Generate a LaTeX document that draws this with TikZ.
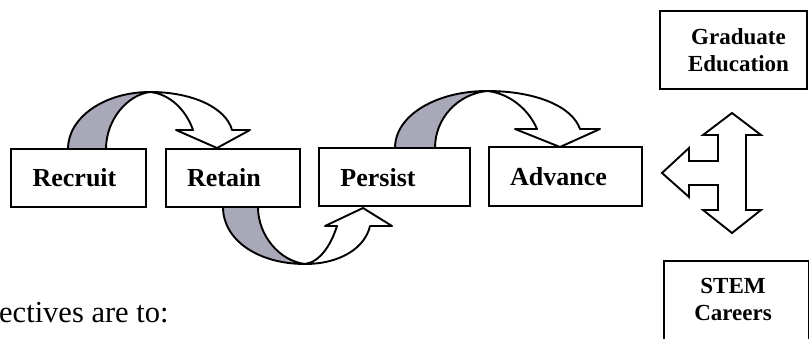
\documentclass[tikz,border=0pt]{standalone}
\usepackage{fontspec}
\setmainfont{Liberation Serif}
\definecolor{ribbongrey}{RGB}{168,168,184}
\begin{document}
\begin{tikzpicture}[x=1pt,y=-1pt,
  box/.style={draw=black, line width=1.9pt, fill=white, rectangle, inner sep=0pt},
  stagetext/.style={anchor=base, inner sep=0pt, font=\fontsize{26}{30}\selectfont\bfseries},
  endtext/.style={align=center, inner sep=0pt, font=\fontsize{23}{27}\selectfont\bfseries},
  ribbon/.style={draw=black, line width=1.9pt, line join=round},
  back/.style={ribbon, fill=ribbongrey},
  front/.style={ribbon, fill=white},
  bigarrow/.style={draw=black, line width=1.9pt, fill=white, line join=miter},
]
\useasboundingbox (0,0) rectangle (809,339);
\clip (0,0) rectangle (809,339);

% stage boxes and their labels
\node[box, minimum width=135pt, minimum height=58pt] (recruit) at (78.5,178) {};
\node[box, minimum width=134pt, minimum height=58pt] (retain)  at (233,178)  {};
\node[box, minimum width=151pt, minimum height=58pt] (persist) at (394.5,177) {};
\node[box, minimum width=153pt, minimum height=59pt] (advance) at (565.5,176.5) {};
\node[stagetext] (recruitlabel) at (74.5,187)  {Recruit};
\node[stagetext] (retainlabel)  at (224,187)   {Retain};
\node[stagetext] (persistlabel) at (378,187)   {Persist};
\node[stagetext] (advancelabel) at (558.5,186) {Advance};

% outcome boxes and their labels
\node[box, minimum width=147pt, minimum height=78pt] (grad) at (733.5,50) {};
\node[endtext] (gradlabel) at (738.5,50) {Graduate\\Education};
\node[box, minimum width=145pt, minimum height=90pt, anchor=north west] (stem) at (663,260) {};
\node[endtext] (stemlabel) at (733,299) {STEM\\Careers};

% Recruit -> Retain (over the top)
\draw[back] (68,149) .. controls (68,117) and (105,92) .. (150,92)
  .. controls (127,95) and (106,120) .. (106,149) -- cycle;
\draw[front] (150,92) .. controls (193,92) and (226,108) .. (232,130)
  -- (250,130) -- (217,148) -- (176,130) -- (193,130)
  .. controls (186,110) and (170,94) .. (150,92) -- cycle;

% Retain -> Persist (underneath)
\draw[back] (223,207) .. controls (223,240) and (258,264) .. (305,264)
  .. controls (280,261) and (258,236) .. (258,207) -- cycle;
\draw[front] (305,264) .. controls (340,264) and (365,248) .. (370,226)
  -- (392,226) -- (363,208) -- (325,226) -- (337,226)
  .. controls (331,245) and (320,262) .. (305,264) -- cycle;

% Persist -> Advance (over the top)
\draw[back] (395,148) .. controls (395,115) and (437,91) .. (487,91)
  .. controls (458,94) and (435,118) .. (435,148) -- cycle;
\draw[front] (487,91) .. controls (535,91) and (572,106) .. (580,129)
  -- (600,129) -- (560,147) -- (515,129) -- (537,129)
  .. controls (528,108) and (508,93) .. (487,91) -- cycle;

% three-way arrow between Advance and the outcomes
\draw[bigarrow] (662,173) -- (689,148) -- (689,161) -- (718,161) -- (718,135)
  -- (703,135) -- (732,113) -- (761,135) -- (746,135) -- (746,210)
  -- (761,210) -- (732,233) -- (703,210) -- (718,210) -- (718,185)
  -- (689,185) -- (689,197) -- cycle;

% running text
\node[anchor=base west, inner sep=0pt, font=\fontsize{30.5}{36}\selectfont] (objectives) at (-1,322) {ectives are to:};
\end{tikzpicture}
\end{document}
